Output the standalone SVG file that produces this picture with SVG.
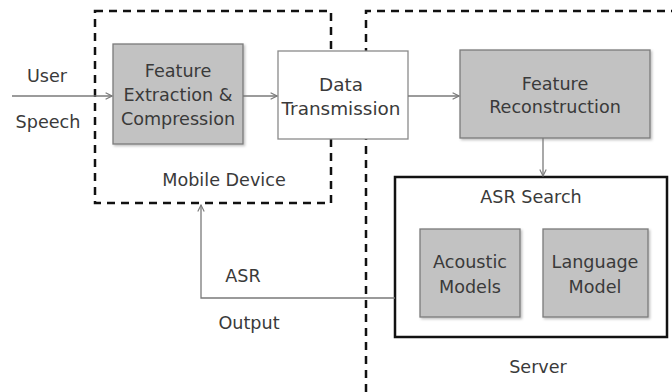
<svg xmlns="http://www.w3.org/2000/svg" width="672" height="392" viewBox="0 0 672 392">
<style>
text{font-family:"DejaVu Sans","Liberation Sans",sans-serif;font-size:17.6px;fill:#3a3a3a;text-anchor:middle}
.big{font-size:18.4px}
.dash{fill:none;stroke:#111;stroke-width:2.5;stroke-dasharray:8 6}
.gray{fill:#c2c2c2;stroke:#7a7a7a;stroke-width:1.3;filter:url(#sh)}
.white{fill:#fff;stroke:#8a8a8a;stroke-width:1.3}
.conn{fill:none;stroke:#7a7a7a;stroke-width:1.3;marker-end:url(#arr)}
</style>
<defs>
<marker id="arr" viewBox="0 0 10 10" refX="9" refY="5" markerWidth="8" markerHeight="8" markerUnits="userSpaceOnUse" orient="auto">
<path d="M1,1 L9,5 L1,9" fill="none" stroke="#7a7a7a" stroke-width="1.4"/>
</marker>
<filter id="sh" x="-10%" y="-10%" width="120%" height="120%">
<feDropShadow dx="1.5" dy="1.5" stdDeviation="1" flood-color="#000" flood-opacity="0.25"/>
</filter>
</defs>
<rect width="672" height="392" fill="#fff"/>
<g id="mobile-device">
<rect class="dash" x="95" y="11" width="236" height="192"/>
<text x="224" y="186">Mobile Device</text>
</g>
<g id="server">
<path class="dash" d="M366,392 V11 H672"/>
<text x="538" y="373">Server</text>
</g>
<g id="feature-extraction">
<rect class="gray" x="113" y="44" width="130" height="100"/>
<text x="178" y="77">Feature</text>
<text x="178" y="101">Extraction &amp;</text>
<text x="178" y="125">Compression</text>
</g>
<g id="data-transmission">
<rect class="white" x="278" y="51" width="130" height="88"/>
<text class="big" x="341" y="91">Data</text>
<text class="big" x="341" y="115">Transmission</text>
</g>
<g id="feature-reconstruction">
<rect class="gray" x="460" y="50" width="190" height="88"/>
<text x="555" y="90">Feature</text>
<text x="555" y="113">Reconstruction</text>
</g>
<g id="asr-search">
<rect x="395" y="177" width="272" height="160" fill="#fff" stroke="#111" stroke-width="2.5"/>
<text x="531" y="203">ASR Search</text>
</g>
<g id="acoustic-models">
<rect class="gray" x="420" y="229" width="100" height="88"/>
<text x="470" y="268">Acoustic</text>
<text x="470" y="293">Models</text>
</g>
<g id="language-model">
<rect class="gray" x="543" y="229" width="105" height="88"/>
<text x="595" y="268">Language</text>
<text x="595" y="293">Model</text>
</g>
<g id="labels">
<text x="47" y="82">User</text>
<text x="48" y="128">Speech</text>
<text x="243" y="282">ASR</text>
<text x="249" y="329">Output</text>
</g>
<g id="connectors">
<path class="conn" d="M12,96 H112"/>
<path class="conn" d="M243,96 H277"/>
<path class="conn" d="M408,96 H459"/>
<path class="conn" d="M543,138 V176"/>
<path class="conn" d="M395,298 H201 V205"/>
</g>
</svg>
